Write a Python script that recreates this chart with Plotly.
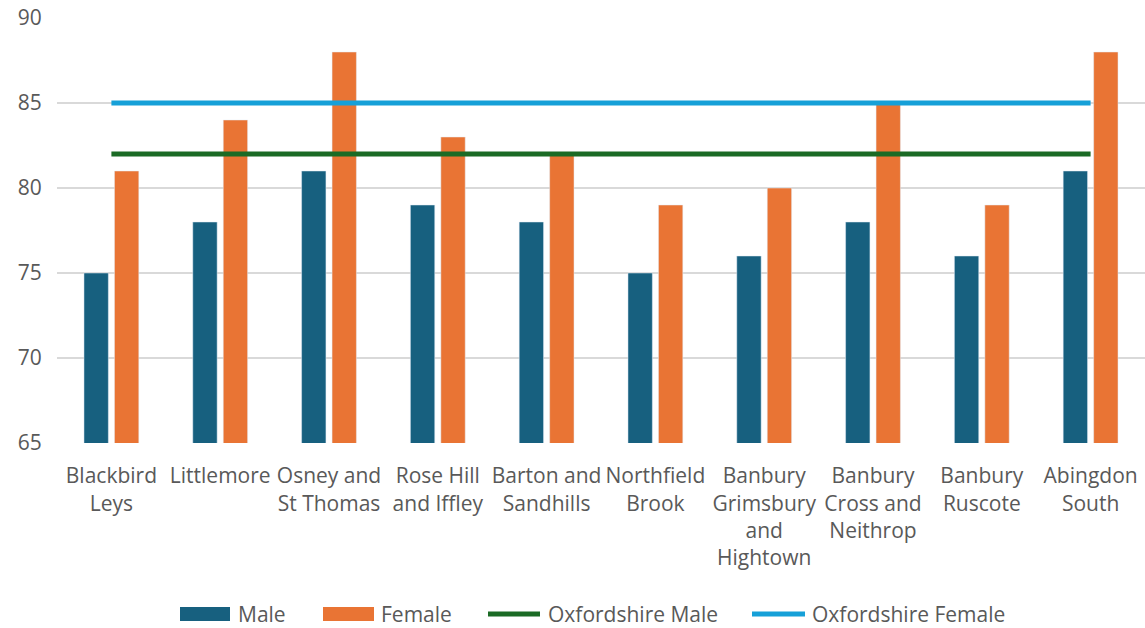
import plotly.graph_objects as go

wards = [
    "Blackbird<br>Leys", "Littlemore", "Osney and<br>St Thomas", "Rose Hill<br>and Iffley",
    "Barton and<br>Sandhills", "Northfield<br>Brook", "Banbury<br>Grimsbury<br>and<br>Hightown",
    "Banbury<br>Cross and<br>Neithrop", "Banbury<br>Ruscote", "Abingdon<br>South",
]
male = [75, 78, 81, 79, 78, 75, 76, 78, 76, 81]
female = [81, 84, 88, 83, 82, 79, 80, 85, 79, 88]
oxon_male = [82] * len(wards)
oxon_female = [85] * len(wards)

MALE_C = "#17607f"
FEMALE_C = "#e97434"
OX_MALE_C = "#1b6b25"
OX_FEMALE_C = "#16a0d8"
TEXT_C = "#595959"
FONT = "Open Sans"
FS = 21

W, H = 1145, 628
ML, MR, MT, MB = 57, 0, 18, 185
PW, PH = W - ML - MR, H - MT - MB

fig = go.Figure()
fig.add_trace(go.Bar(name="Male", x=wards, y=male, base=0, marker_color=MALE_C))
fig.add_trace(go.Bar(name="Female", x=wards, y=female, base=0, marker_color=FEMALE_C))
fig.add_trace(go.Scatter(name="Oxfordshire Male", x=wards, y=oxon_male, mode="lines",
                         line=dict(color=OX_MALE_C, width=5)))
fig.add_trace(go.Scatter(name="Oxfordshire Female", x=wards, y=oxon_female, mode="lines",
                         line=dict(color=OX_FEMALE_C, width=5)))


def px_x(v):
    return (v - ML) / PW


def px_y(v):
    return (H - MB - v) / PH


# legend row drawn beneath the axis: wide swatches for bars, strokes for lines
LEG_Y = 614
legend_items = [
    ("Male", MALE_C, "box", 180, 230, 236),
    ("Female", FEMALE_C, "box", 323, 374, 379),
    ("Oxfordshire Male", OX_MALE_C, "line", 486, 542, 546),
    ("Oxfordshire Female", OX_FEMALE_C, "line", 750, 807, 810),
]
shapes = []
annotations = []
for label, color, kind, x0, x1, tx in legend_items:
    if kind == "box":
        shapes.append(dict(type="rect", xref="paper", yref="paper",
                           x0=px_x(x0), x1=px_x(x1), y0=px_y(LEG_Y + 7), y1=px_y(LEG_Y - 7),
                           fillcolor=color, line=dict(width=0)))
    else:
        shapes.append(dict(type="line", xref="paper", yref="paper",
                           x0=px_x(x0 + 2), x1=px_x(x1 - 2), y0=px_y(LEG_Y), y1=px_y(LEG_Y),
                           line=dict(color=color, width=5)))
    annotations.append(dict(text=label, xref="paper", yref="paper", x=px_x(tx), y=px_y(LEG_Y),
                            xanchor="left", yanchor="middle", showarrow=False,
                            font=dict(family=FONT, size=FS, color=TEXT_C)))

fig.update_layout(
    width=W, height=H,
    margin=dict(l=ML, r=MR, t=MT, b=MB),
    paper_bgcolor="white", plot_bgcolor="white",
    font=dict(family=FONT, size=FS, color=TEXT_C),
    barmode="group", bargap=0.44, bargroupgap=0.2,
    showlegend=False,
    shapes=shapes, annotations=annotations,
    xaxis=dict(showgrid=False, showline=False, ticks="outside", ticklen=14, automargin=False,
               tickcolor="rgba(0,0,0,0)", tickfont=dict(size=FS, color=TEXT_C)),
    yaxis=dict(range=[65, 90], dtick=5, showgrid=True, gridcolor="#d9d9d9", gridwidth=1.5,
               zeroline=False, showline=False, ticks="outside", ticklen=10, automargin=False,
               tickcolor="rgba(0,0,0,0)", tickfont=dict(size=FS, color=TEXT_C)),
)

fig.write_html("out.html")
